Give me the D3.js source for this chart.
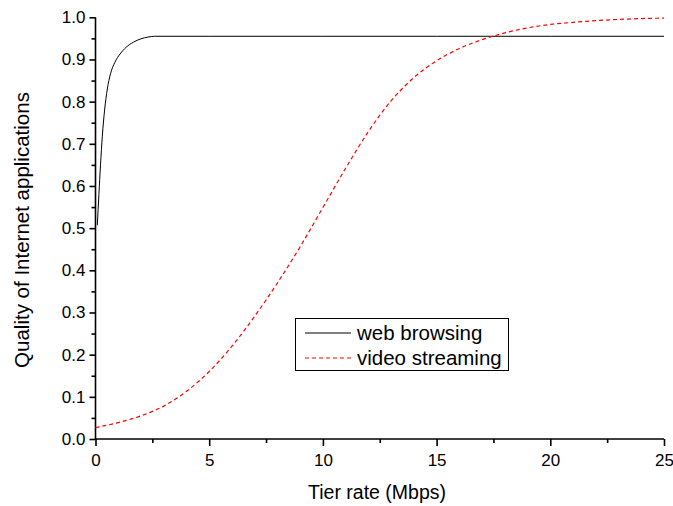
<!DOCTYPE html>
<html>
<head>
<meta charset="utf-8">
<script src="https://cdn.jsdelivr.net/npm/d3@7"></script>
<style>
body{margin:0;background:#fff;}
text{font-family:"Liberation Sans",Arial,sans-serif;fill:#000;}
</style>
</head>
<body>
<svg id="c" width="673" height="506"></svg>
<script>
const webX = [0.08, 0.15, 0.22, 0.30, 0.40, 0.52, 0.66, 0.85, 1.08, 1.35, 1.67, 2.0, 2.3, 2.6, 5, 10, 15, 20, 25];
const webY = [0.507, 0.580, 0.650, 0.718, 0.780, 0.830, 0.866, 0.893, 0.913, 0.929, 0.941, 0.949, 0.953, 0.955, 0.955, 0.955, 0.955, 0.955, 0.955];
const videoX = [0,1,2,3,4,5,6,7,8,9,10,11,12,13,14,15,16,17,18,19,20,21,22,23,24,25];
const videoY = [0.027,0.039,0.055,0.078,0.113,0.160,0.220,0.291,0.370,0.456,0.549,0.642,0.729,0.802,0.857,0.897,0.926,0.947,0.963,0.975,0.983,0.988,0.992,0.995,0.997,0.998];
const xMajor = [0,5,10,15,20,25];
const xMinor = [2.5,7.5,12.5,17.5,22.5];
const yMajor = [0,0.1,0.2,0.3,0.4,0.5,0.6,0.7,0.8,0.9,1.0];
const yMinor = [0.05,0.15,0.25,0.35,0.45,0.55,0.65,0.75,0.85,0.95];
const seriesNames = ["web browsing","video streaming"];
const xTitle = "Tier rate (Mbps)";
const yTitle = "Quality of Internet applications";

const svg = d3.select("#c");
const x = d3.scaleLinear().domain([0,25]).range([95.5,664]);
const y = d3.scaleLinear().domain([0,1]).range([439,17.3]);

// x axis
const gx = svg.append("g").attr("transform","translate(0,439)");
gx.call(d3.axisBottom(x).tickValues(xMajor).tickFormat(d3.format("d")).tickSize(7).tickPadding(8));
gx.append("g").call(d3.axisBottom(x).tickValues(xMinor).tickFormat("").tickSize(4));
gx.select(".domain").attr("d","M95.5,0H664");
// y axis
const gy = svg.append("g").attr("transform","translate(95.5,0)");
gy.call(d3.axisLeft(y).tickValues(yMajor).tickFormat(d3.format(".1f")).tickSize(6).tickPadding(4));
gy.append("g").call(d3.axisLeft(y).tickValues(yMinor).tickFormat("").tickSize(4));
gy.select(".domain").attr("d","M0,439V17.3");
svg.selectAll("g g .domain").remove();
svg.selectAll(".domain").attr("stroke","#000").attr("stroke-width",1.6);
svg.selectAll(".tick line").attr("stroke","#000").attr("stroke-width",1.6);
svg.selectAll(".tick text").attr("font-size",17).attr("font-family","Liberation Sans, Arial, sans-serif");

// lines
const line = d3.line().x(d=>x(d[0])).y(d=>y(d[1])).curve(d3.curveMonotoneX);
svg.append("path").datum(webX.map((v,i)=>[v,webY[i]]))
  .attr("d",line).attr("fill","none").attr("stroke","#000").attr("stroke-width",1);
svg.append("path").datum(videoX.map((v,i)=>[v,videoY[i]]))
  .attr("d",line).attr("fill","none").attr("stroke","#ff0000").attr("stroke-width",1.2).attr("stroke-dasharray","4,3");

// titles
svg.append("text").attr("x",377).attr("y",499).attr("text-anchor","middle").attr("font-size",19.5).text(xTitle);
svg.append("text").attr("transform","translate(29,230) rotate(-90)").attr("text-anchor","middle").attr("font-size",20.5).text(yTitle);

// legend
const lg = svg.append("g");
lg.append("rect").attr("x",295.5).attr("y",318.5).attr("width",213).attr("height",52).attr("fill","#fff").attr("stroke","#000").attr("stroke-width",1);
const ly = [333, 358];
const lstyle = [{c:"#000",d:null,w:1},{c:"#ff0000",d:"4,3",w:1.2}];
seriesNames.forEach((n,i)=>{
  lg.append("line").attr("x1",305).attr("x2",351).attr("y1",ly[i]).attr("y2",ly[i])
    .attr("stroke",lstyle[i].c).attr("stroke-width",lstyle[i].w).attr("stroke-dasharray",lstyle[i].d);
  lg.append("text").attr("x",357).attr("y",ly[i]+6.5).attr("font-size",20.5).text(n);
});
</script>
</body>
</html>
